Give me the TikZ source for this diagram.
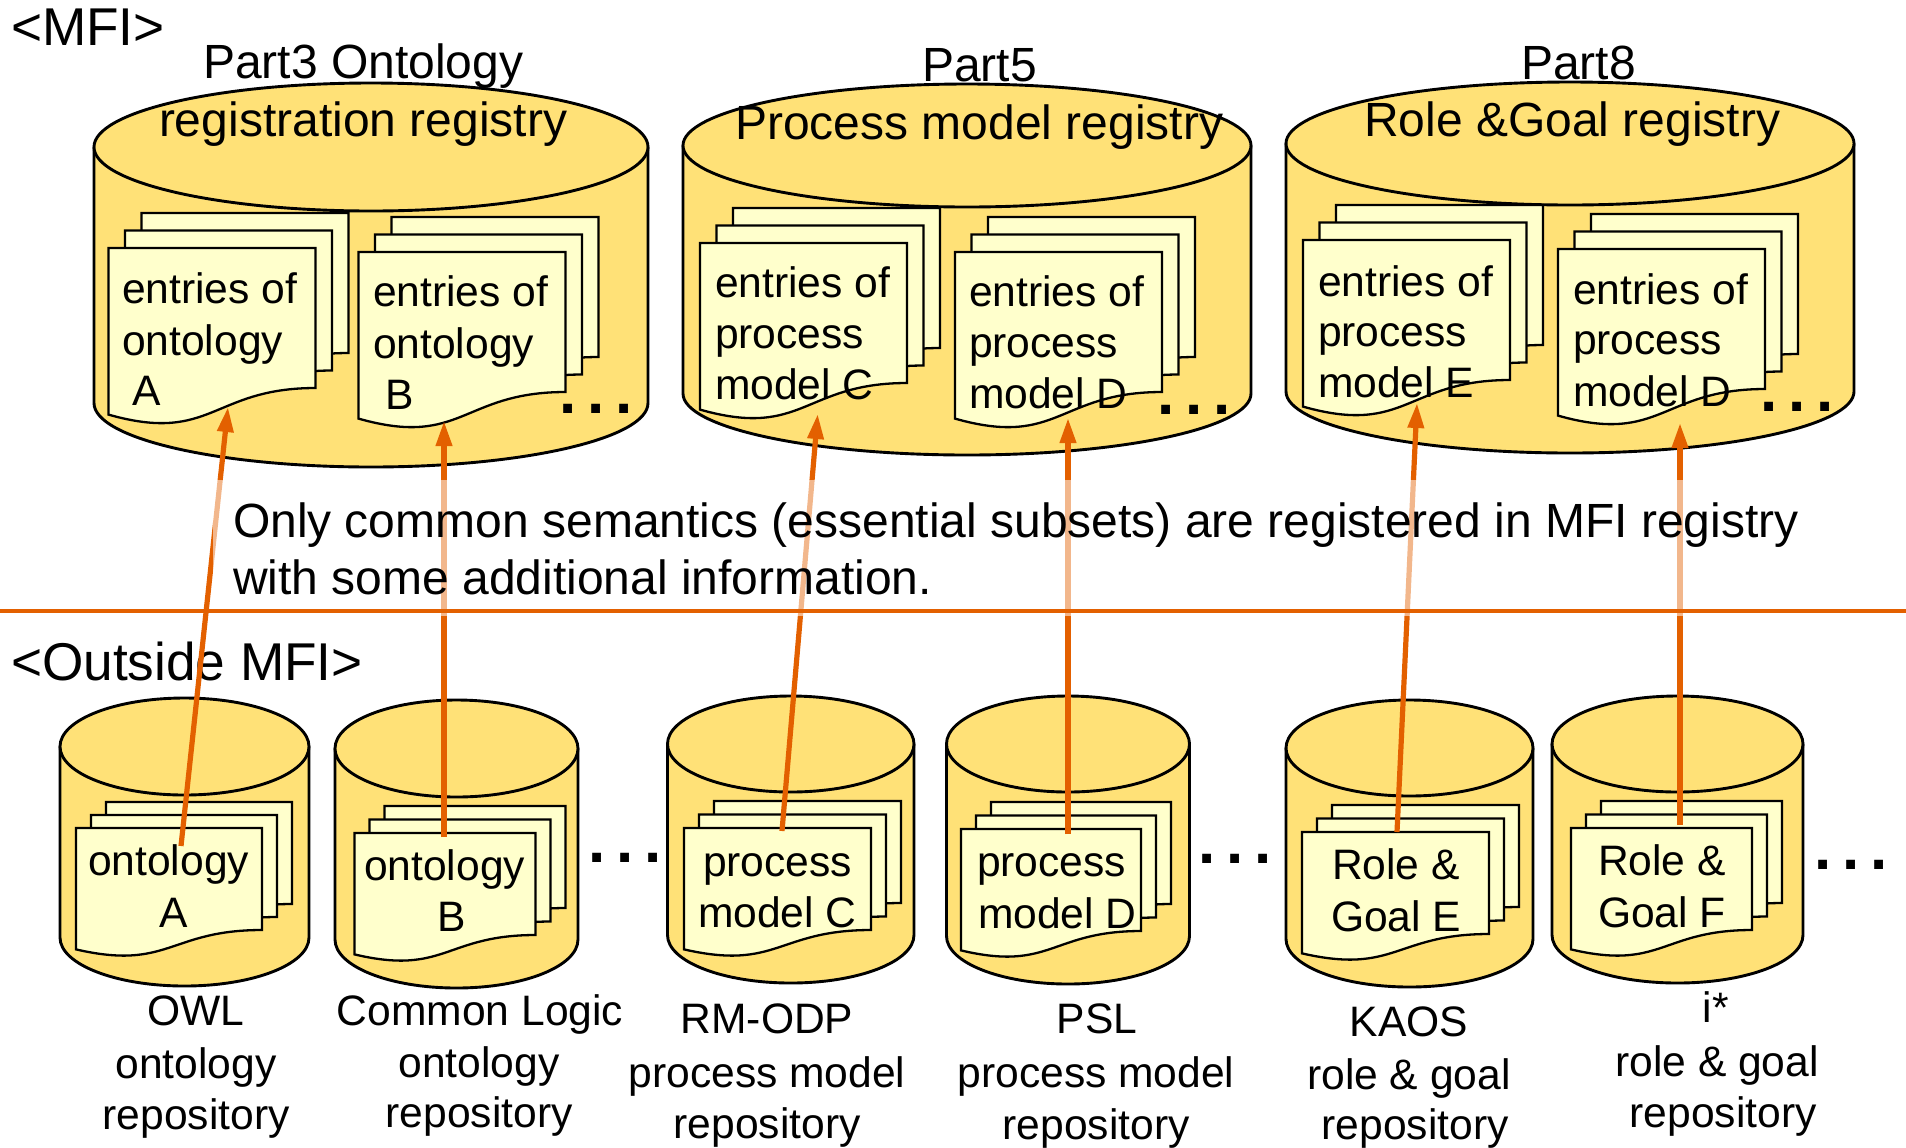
\documentclass[tikz,border=0pt]{standalone}
\usepackage{fontspec}
\setmainfont{Liberation Sans}
\usetikzlibrary{arrows.meta}
\definecolor{cylfill}{HTML}{FFE177}
\definecolor{docfill}{HTML}{FFFFCC}
\definecolor{linkcol}{HTML}{E36000}
\tikzset{
  x=0.5pt,y=-0.5pt,
  cylshape/.style={draw=black,fill=cylfill,line width=1.45pt,line join=round},
  docshape/.style={draw=black,fill=docfill,line width=1.15pt,line join=miter},
  big/.style={inner sep=0pt,outer sep=0pt,anchor=base west,font=\fontsize{26.6pt}{30pt}\selectfont},
  main/.style={inner sep=0pt,outer sep=0pt,anchor=base west,font=\fontsize{24pt}{28pt}\selectfont},
  small/.style={inner sep=0pt,outer sep=0pt,anchor=base west,font=\fontsize{21.3pt}{25pt}\selectfont},
  smallc/.style={small,anchor=base},
  dotrow/.style={inner sep=0pt,outer sep=0pt,anchor=center,font=\bfseries\fontsize{31pt}{31pt}\selectfont},
  link/.style={draw=linkcol,line width=2.6pt,-{Triangle[length=12.5pt,width=7.8pt]}},
  divider/.style={draw=linkcol,line width=2.4pt},
  veil/.style={fill=white,fill opacity=.55,draw=none}
}
% left right top ellipse-bottom bottom
\newcommand\cylinder[5]{%
  \pgfmathsetmacro\cyrx{(#2-#1)/4}%
  \pgfmathsetmacro\cyry{(#4-#3)/4}%
  \pgfmathsetmacro\cycy{(#3+#4)/2}%
  \pgfmathsetmacro\cycx{(#1+#2)/2}%
  \pgfmathsetmacro\cybe{#5-(#4-#3)/2}%
  \path[cylshape] (#1,\cycy) -- (#1,\cybe) arc[start angle=180,end angle=360,x radius=\cyrx pt,y radius=\cyry pt] -- (#2,\cycy) -- cycle;
  \path[cylshape] (\cycx,\cycy) ellipse[x radius=\cyrx pt,y radius=\cyry pt];
}
\newcommand\docpage[4]{%
  \path[docshape] (#1,#2) -- ({#1+#3},#2) -- ({#1+#3},{#2+#4})
    .. controls ({#1+#3/2},{#2+#4}) and ({#1+#3/2},{#2+1.40*#4}) .. (#1,{#2+1.19*#4}) -- cycle;
}
% x top w h dx dy
\newcommand\docstack[6]{%
  \docpage{#1+2*#5}{#2-2*#6}{#3}{#4}%
  \docpage{#1+#5}{#2-#6}{#3}{#4}%
  \docpage{#1}{#2}{#3}{#4}%
}
\begin{document}
\begin{tikzpicture}
\useasboundingbox (0,0) rectangle (1906,1147);
% registries
\cylinder{94}{648}{83}{211}{467}
\cylinder{683}{1251}{84}{207}{455}
\cylinder{1286}{1854}{82}{205}{453}
\docstack{108.5}{248}{207}{140}{16.5}{17.5}
\docstack{358.5}{252}{207}{140}{16.5}{17.5}
\docstack{700}{243}{207}{140}{16.5}{17.5}
\docstack{955}{252}{207}{140}{16.5}{17.5}
\docstack{1303}{240}{207}{140}{16.5}{17.5}
\docstack{1558}{249}{207}{140}{16.5}{17.5}
% repositories
\cylinder{60}{309}{698}{795}{986}
\cylinder{335}{578}{700}{797}{988}
\cylinder{667.5}{914}{696}{792}{983}
\cylinder{946.5}{1189.5}{696}{792}{984}
\cylinder{1286}{1533}{700}{796}{987}
\cylinder{1552}{1803}{696}{792}{983}
\docstack{76}{828}{186}{102}{15}{13}
\docstack{354.5}{833}{181}{102}{15}{13.5}
\docstack{684}{828}{187}{102}{15}{13.5}
\docstack{961}{829}{180}{102}{15}{13.5}
\docstack{1302}{832}{187}{102}{15}{13.5}
\docstack{1571}{828}{181}{102}{15}{13.5}
% headings
\node[big] (mfi) at (11,45) {<MFI>};
\node[big] (outside) at (11,680) {<Outside MFI>};
\node[main] (t1a) at (203,78) {Part3 Ontology};
\node[main] (t1b) at (159,136) {registration registry};
\node[main] (t2a) at (922,81) {Part5};
\node[main] (t2b) at (735,139) {Process model registry};
\node[main] (t3a) at (1521,79) {Part8};
\node[main] (t3b) at (1364,136) {Role \&Goal registry};
% registry documents
\node[small] (a1) at (122,303) {entries of};
\node[small] (a2) at (122,355) {ontology};
\node[small] (a3) at (132,405) {A};
\node[small] (b1) at (373,306) {entries of};
\node[small] (b2) at (373,358) {ontology};
\node[small] (b3) at (385,409) {B};
\node[small] (c1) at (715,297) {entries of};
\node[small] (c2) at (715,348) {process};
\node[small] (c3) at (715,399) {model C};
\node[small] (d1) at (969,306) {entries of};
\node[small] (d2) at (969,357) {process};
\node[small] (d3) at (969,408) {model D};
\node[small] (e1) at (1318,296) {entries of};
\node[small] (e2) at (1318,346) {process};
\node[small] (e3) at (1318,397) {model E};
\node[small] (f1) at (1573,304) {entries of};
\node[small] (f2) at (1573,354) {process};
\node[small] (f3) at (1573,406) {model D};
% repository documents
\node[small] (ra1) at (88,875) {ontology};
\node[small] (ra2) at (159,927) {A};
\node[small] (rb1) at (364,880) {ontology};
\node[small] (rb2) at (437,931) {B};
\node[small] (rc1) at (703,876) {process};
\node[small] (rc2) at (698,927) {model C};
\node[small] (rd1) at (977,876) {process};
\node[small] (rd2) at (978,928) {model D};
\node[small] (re1) at (1332,879) {Role \&};
\node[small] (re2) at (1331,931) {Goal E};
\node[small] (rf1) at (1598,875) {Role \&};
\node[small] (rf2) at (1598,927) {Goal F};
% repository captions
\node[smallc] (l1a) at (196,1025) {OWL};
\node[smallc] (l1b) at (196,1078) {ontology};
\node[smallc] (l1c) at (196,1129) {repository};
\node[smallc] (l2a) at (480,1025) {Common Logic};
\node[smallc] (l2b) at (479,1077) {ontology};
\node[smallc] (l2c) at (479,1127) {repository};
\node[smallc] (l3a) at (767,1033) {RM-ODP};
\node[smallc] (l3b) at (767,1087) {process model};
\node[smallc] (l3c) at (767,1138) {repository};
\node[smallc] (l4a) at (1097,1033) {PSL};
\node[smallc] (l4b) at (1096,1087) {process model};
\node[smallc] (l4c) at (1096,1139) {repository};
\node[smallc] (l5a) at (1409,1036) {KAOS};
\node[smallc] (l5b) at (1409,1089) {role \& goal};
\node[smallc] (l5c) at (1415,1139) {repository};
\node[smallc] (l6a) at (1716,1022) {i*};
\node[smallc] (l6b) at (1717,1076) {role \& goal};
\node[smallc] (l6c) at (1723,1127) {repository};
% ellipsis marks
\newcommand\dotrowat[3]{\node[dotrow] (#1) at (#2,#3) {.\kern5.2pt.\kern5.2pt.};}
\dotrowat{m1}{596}{409}
\dotrowat{m2}{1194}{410}
\dotrowat{m3}{1797}{407}
\dotrowat{m4}{625}{858}
\dotrowat{m5}{1235}{859}
\dotrowat{m6}{1851}{865}
% link end points
\coordinate (s1) at (181,846);   \coordinate (g1) at (228,407);
\coordinate (s2) at (444,837); \coordinate (g2) at (444,421);
\coordinate (s3) at (782,831);   \coordinate (g3) at (817.7,414);
\coordinate (s4) at (1068,834);\coordinate (g4) at (1068,418);
\coordinate (s5) at (1397,832);  \coordinate (g5) at (1417,403);
\coordinate (s6) at (1680,825);  \coordinate (g6) at (1680,423);
\foreach \n in {1,...,6} \draw[link] (s\n) -- (g\n);
% translucent note box over the links
\fill[veil] (213,480) rectangle (1812,616);
\node[main] (note1) at (233,537) {Only common semantics (essential subsets) are registered in MFI registry};
\node[main] (note2) at (233,594) {with some additional information.};
\coordinate (divl) at (0,611);
\coordinate (divr) at (1906,611);
\draw[divider] (divl) -- (divr);
\end{tikzpicture}
\end{document}
